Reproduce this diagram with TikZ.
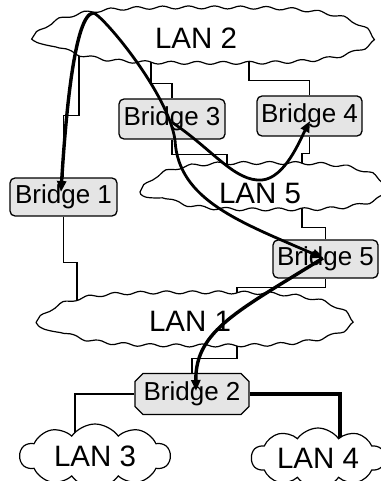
\documentclass[tikz,border=0pt]{standalone}
\usepackage{fontspec}
\setmainfont{Liberation Sans}
\usetikzlibrary{arrows.meta,decorations.pathmorphing,shapes.symbols,shapes.misc}
\pgfdeclarelayer{background}
\pgfdeclarelayer{foreground}
\pgfsetlayers{background,main,foreground}
\begin{document}
\begin{tikzpicture}[x=1pt,y=-1pt,
  cloudline/.style={draw=black, line width=1.2pt, fill=white, decorate,
    decoration={snake, segment length=26pt, amplitude=1.5pt}},
  lantext/.style={font=\fontsize{29.5}{30}\selectfont, inner sep=0pt},
  lancloud/.style={cloud, cloud puffs=10, cloud puff arc=110, cloud ignores aspect,
    draw=black, line width=1.2pt, fill=white, inner sep=0pt,
    font=\fontsize{29.5}{30}\selectfont},
  bridge/.style={draw=black, line width=1.3pt, fill=gray!20, rounded corners=5pt,
    minimum height=40pt, minimum width=106pt, inner sep=0pt,
    font=\fontsize{26}{28}\selectfont},
  link/.style={draw=black, line width=1.2pt},
  tree/.style={draw=black, line width=3pt, -{Triangle[length=11pt,width=9pt]}},
]
\useasboundingbox (0,0) rectangle (380,481);

% elongated LAN clouds
\path[cloudline] (32,38.5) .. controls (57,12) and (116,12) .. (199.5,12)
  .. controls (283,12) and (342,12) .. (367,38.5)
  .. controls (342,65) and (283,65) .. (199.5,65)
  .. controls (116,65) and (57,65) .. (32,38.5) -- cycle;
\path[cloudline] (140,192) .. controls (158,168) and (201,168) .. (262,168)
  .. controls (323,168) and (366,168) .. (384,192)
  .. controls (366,216) and (323,216) .. (262,216)
  .. controls (201,216) and (158,216) .. (140,192) -- cycle;
\path[cloudline] (36,322.5) .. controls (59,297) and (114,297) .. (191.5,297)
  .. controls (269,297) and (324,297) .. (347,322.5)
  .. controls (324,348) and (269,348) .. (191.5,348)
  .. controls (114,348) and (59,348) .. (36,322.5) -- cycle;

\node[lantext] (lan2) at (196,38) {LAN 2};
\node[lantext] (lan5) at (260,193) {LAN 5};
\node[lantext] (lan1) at (190,321) {LAN 1};
\node[lancloud, minimum width=150pt, minimum height=64pt] (lan3) at (95,456) {LAN 3};
\node[lancloud, minimum width=133pt, minimum height=60pt] (lan4) at (318,458) {LAN 4};

% bridges
\node[bridge] (br3) at (172,119) {Bridge 3};
\node[bridge, minimum width=105pt] (br4) at (309.5,116) {Bridge 4};
\node[bridge, minimum width=107pt, minimum height=38pt] (br1) at (63.5,197) {Bridge 1};
\node[bridge, minimum width=105pt, minimum height=38pt] (br5) at (325.5,259) {Bridge 5};
\node[bridge, chamfered rectangle, chamfered rectangle xsep=4pt, chamfered rectangle ysep=4pt, sharp corners,
  minimum width=114pt, minimum height=41pt] (br2) at (192,394) {Bridge 2};

% ports on clouds
\coordinate (l2a) at (151,45);
\coordinate (l2b) at (249,45);
\coordinate (l2c) at (79,45);
\coordinate (l5a) at (227,195);
\coordinate (l5b) at (302,195);
\coordinate (l5c) at (302,192);
\coordinate (l1a) at (237,322);
\coordinate (l1b) at (77,322);
\coordinate (l1c) at (237,325);
\coordinate (l3a) at (75,456);
\coordinate (l4a) at (340,460);

\begin{pgfonlayer}{background}
\draw[link] (br3.north) -- ++(0,-15) -| (l2a);
\draw[link] (br4.north) -- ++(0,-15) -| (l2b);
\draw[link] (br1.north) -- ++(0,-62) -| (l2c);
\draw[link] (br3.south) -- ++(0,15) -| (l5a);
\draw[link] (br4.south) -- ++(0,17) -| (l5b);
\draw[link] (br5.north) -- ++(0,-12) -| (l5c);
\draw[link] (br5.south) -- ++(0,9) -| (l1a);
\draw[link] (br1.south) -- ++(0,46) -| (l1b);
\draw[link] (br2.north) -- ++(0,-14) -| (l1c);
\draw[link] (br2.west) -| (l3a);
\draw[link, line width=3.6pt] (br2.east) -| (l4a);
\end{pgfonlayer}

% spanning-tree path
\coordinate (apex) at (93,13);
\coordinate (j3) at (173,123);
\coordinate (t1) at (61,192);
\coordinate (t4) at (310,121);
\coordinate (t5) at (323,258);
\coordinate (t2) at (196,391);
\begin{pgfonlayer}{foreground}
\draw[tree, line width=3.4pt] (apex) .. controls (75,15) and (66,110) .. (t1);
\draw[tree, line width=2.8pt] (apex) .. controls (100,12) and (168,92) .. (175,140)
  .. controls (178,200) and (240,222) .. (t5);
\draw[tree, line width=2.8pt] (j3) .. controls (213,150) and (235,182) .. (262,180)
  .. controls (285,178) and (300,140) .. (t4);
\draw[tree, line width=3.4pt] (t5) .. controls (240,310) and (195,330) .. (t2);
\end{pgfonlayer}
\end{tikzpicture}
\end{document}
